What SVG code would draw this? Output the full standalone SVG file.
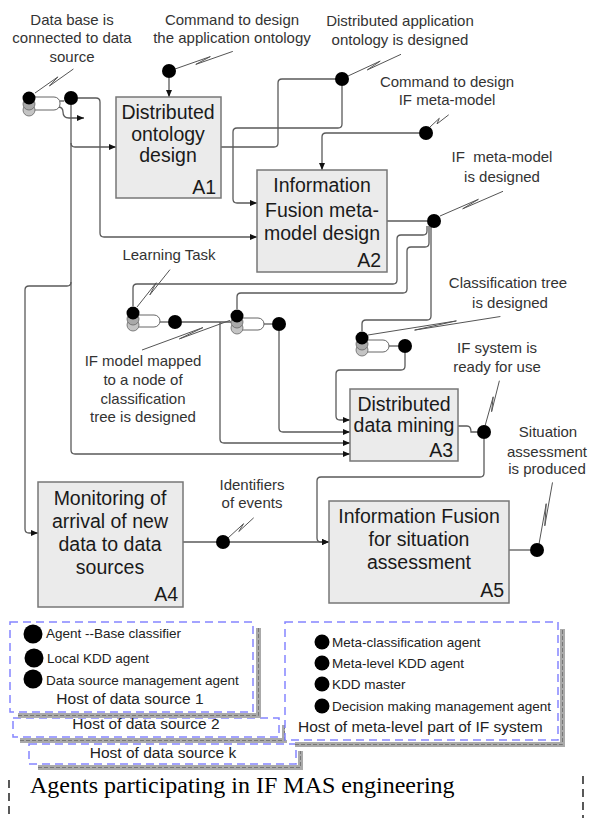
<svg xmlns="http://www.w3.org/2000/svg" width="591" height="818" viewBox="0 0 591 818">
<defs>
<style>
text{font-family:"Liberation Sans",Arial,sans-serif}
.lbl{font-size:15px;fill:#333;text-anchor:middle}
.bt{font-size:19.5px;fill:#1a1a1a;text-anchor:middle}
.bn{font-size:19.5px;fill:#1a1a1a;text-anchor:end}
.leg{font-size:13.5px;fill:#222}
.host{font-size:15.5px;fill:#222}
.box{fill:#ebebeb;stroke:#777;stroke-width:1.5}
.ln{fill:none;stroke:#5a5a5a;stroke-width:1.3}
.sq{fill:none;stroke:#555;stroke-width:1}
.dot{fill:#000}
.g1{fill:#a9a9a9;stroke:#666;stroke-width:0.8}
.g2{fill:#c4c4c4;stroke:#666;stroke-width:0.8}
.pill{fill:#fff;stroke:#666;stroke-width:1}
.dash{fill:#fff;stroke:#8585ff;stroke-width:1.5;stroke-dasharray:8,5}
.shd{fill:none;stroke:#aaa;stroke-width:5}
.shd2{fill:none;stroke:#777;stroke-width:1;stroke-dasharray:4,2}
</style>
<marker id="arr" markerWidth="8" markerHeight="7" refX="7" refY="3.5" orient="auto" markerUnits="userSpaceOnUse"><path d="M0,0.5 L7,3.5 L0,6.5 z" fill="#111"/></marker>
</defs>
<rect width="591" height="818" fill="#fff"/>

<g id="connectors">
<path class="ln" d="M221,147 H274 Q278,147 278,143 V83 Q278,79 282,79 H336"/>
<path class="ln" marker-end="url(#arr)" d="M342,86 V124 Q342,128 338,128 H237 Q233,128 233,132 V199 Q233,203 237,203 H257"/>
<path class="ln" marker-end="url(#arr)" d="M419,133 H326 Q322,133 322,137 V170"/>
<path class="ln" marker-end="url(#arr)" d="M169,78 V97"/>
<path class="ln" marker-end="url(#arr)" d="M78,98 H96 Q100,98 100,102 V233 Q100,237 104,237 H257"/>
<path class="ln" marker-end="url(#arr)" d="M71,105 V450 Q71,454 75,454 H350"/>
<path class="ln" marker-end="url(#arr)" d="M71,143 Q71,147 75,147 H116"/>
<path class="ln" marker-end="url(#arr)" d="M71,282 Q71,286 67,286 H29 Q25,286 25,290 V529 Q25,533 29,533 H38"/>
<path class="ln" marker-end="url(#arr)" d="M58,107 Q63,107 63,112 Q63,118 69,118 H84"/>
<path class="ln" d="M387,221 H427"/>
<path class="ln" d="M427,226 V231 Q427,235 423,235 H401 Q397,235 397,239 V280 Q397,284 393,284 H137 Q133,284 133,288 V306"/>
<path class="ln" d="M429,226 V243 Q429,247 425,247 H411 Q407,247 407,251 V289 Q407,293 403,293 H241 Q237,293 237,297 V309"/>
<path class="ln" d="M431,227 V316 Q431,320 427,320 H366 Q362,320 362,324 V331"/>
<path class="ln" d="M182,322 H231"/>
<path class="ln" marker-end="url(#arr)" d="M220,322 V439 Q220,443 224,443 H350"/>
<path class="ln" marker-end="url(#arr)" d="M279,331 V428 Q279,432 283,432 H350"/>
<path class="ln" marker-end="url(#arr)" d="M405,353 V366 Q405,370 401,370 H340 Q336,370 336,374 V416 Q336,420 340,420 H350"/>
<path class="ln" d="M458,426 H467 Q471,426 471,432 H477"/>
<path class="ln" marker-end="url(#arr)" d="M484,439 V473 Q484,477 480,477 H321 Q317,477 317,481 V538 Q317,542 321,542 H329"/>
<path class="ln" marker-end="url(#arr)" d="M183,542 H329"/>
<path class="ln" d="M509,550 H530"/>
<!-- squiggle label leaders -->
<path class="sq" d="M35,93 L57.9,76.9 L49.4,86 L73.4,69"/>
<path class="sq" d="M175,69 L210.3,56.6 L195.8,64.4 L232.8,51.4"/>
<path class="sq" d="M348,76 L380.2,61.1 L367.3,69.9 L401,54.3"/>
<path class="sq" d="M430,127 L439.3,118.3 L437,123.9 L448.7,114.8"/>
<path class="sq" d="M440,216 L478.4,199.3 L462.7,208.8 L503,191.3"/>
<path class="sq" d="M137,307 L156.2,282.8 L149.8,294.9 L170,269.6"/>
<path class="sq" d="M142,350 L202.9,327.6 L179.4,338.9 L229.9,320.4"/>
<path class="sq" d="M368,335 L456.4,320.9 L414.6,330.1 L500.4,316.5"/>
<path class="sq" d="M485,426 L493.2,396.8 L491.6,411.7 L499.4,380.7"/>
<path class="sq" d="M228,538 L243.6,523.7 L238.8,531.5 L253.7,517.8"/>
<path class="sq" d="M539,544 L546.2,503.7 L544.8,525.8 L552.5,482.4"/>
</g>

<g id="dots">
<circle class="dot" cx="169" cy="71" r="7"/>
<circle class="dot" cx="342" cy="79" r="7"/>
<circle class="dot" cx="426" cy="133" r="7"/>
<circle class="dot" cx="434" cy="221" r="7"/>
<circle class="dot" cx="484" cy="432" r="7"/>
<circle class="dot" cx="223" cy="542" r="7"/>
<circle class="dot" cx="537" cy="550" r="7"/>
</g>

<g id="node-db">
<rect class="pill" x="26" y="97" width="34" height="13" rx="6"/>
<circle class="g2" cx="29" cy="110" r="6"/>
<circle class="g1" cx="29" cy="104" r="6"/>
<circle class="dot" cx="29" cy="98" r="6.5"/>
<path class="ln" d="M60,101 H64"/>
<circle class="dot" cx="71" cy="98" r="7"/>
</g>
<g id="node-learning">
<rect class="pill" x="130" y="315" width="30" height="12" rx="6"/>
<circle class="g2" cx="133" cy="325" r="6"/>
<circle class="g1" cx="133" cy="319" r="6"/>
<circle class="dot" cx="133" cy="313" r="6.5"/>
<path class="ln" d="M160,322 H168"/>
<circle class="dot" cx="175" cy="322" r="7"/>
</g>
<g id="node-mapped">
<rect class="pill" x="234" y="318" width="30" height="12" rx="6"/>
<circle class="g2" cx="237" cy="328" r="6"/>
<circle class="g1" cx="237" cy="322" r="6"/>
<circle class="dot" cx="237" cy="316" r="6.5"/>
<path class="ln" d="M264,324 H272"/>
<circle class="dot" cx="279" cy="324" r="7"/>
</g>
<g id="node-tree">
<rect class="pill" x="359" y="340" width="30" height="12" rx="6"/>
<circle class="g2" cx="362" cy="350" r="6"/>
<circle class="g1" cx="362" cy="344" r="6"/>
<circle class="dot" cx="362" cy="338" r="6.5"/>
<path class="ln" d="M389,346 H398"/>
<circle class="dot" cx="405" cy="346" r="7"/>
</g>

<g id="A1">
<rect class="box" x="116" y="97" width="105" height="101"/>
<text class="bt" x="168" y="119">Distributed</text>
<text class="bt" x="168" y="141">ontology</text>
<text class="bt" x="168" y="162">design</text>
<text class="bn" x="216" y="194">A1</text>
</g>
<g id="A2">
<rect class="box" x="257" y="170" width="130" height="102"/>
<text class="bt" x="322" y="192">Information</text>
<text class="bt" x="322" y="217">Fusion meta-</text>
<text class="bt" x="322" y="240">model design</text>
<text class="bn" x="381" y="267">A2</text>
</g>
<g id="A3">
<rect class="box" x="350" y="389" width="108" height="72"/>
<text class="bt" x="404" y="411">Distributed</text>
<text class="bt" x="404" y="432">data mining</text>
<text class="bn" x="453" y="457">A3</text>
</g>
<g id="A4">
<rect class="box" x="38" y="482" width="145" height="125"/>
<text class="bt" x="110" y="505">Monitoring of</text>
<text class="bt" x="110" y="528">arrival of new</text>
<text class="bt" x="110" y="551">data to data</text>
<text class="bt" x="110" y="574">sources</text>
<text class="bn" x="178" y="601">A4</text>
</g>
<g id="A5">
<rect class="box" x="329" y="501" width="180" height="102"/>
<text class="bt" x="419" y="523">Information Fusion</text>
<text class="bt" x="419" y="546">for situation</text>
<text class="bt" x="419" y="569">assessment</text>
<text class="bn" x="504" y="597">A5</text>
</g>

<g id="labels">
<text class="lbl" x="72" y="25">Data base is</text>
<text class="lbl" x="72" y="43">connected to data</text>
<text class="lbl" x="72" y="62">source</text>
<text class="lbl" x="232" y="25">Command to design</text>
<text class="lbl" x="232" y="43">the application ontology</text>
<text class="lbl" x="400" y="26">Distributed application</text>
<text class="lbl" x="400" y="45">ontology is designed</text>
<text class="lbl" x="447" y="87">Command to design</text>
<text class="lbl" x="447" y="105">IF meta-model</text>
<text class="lbl" x="502" y="162" style="white-space:pre">IF  meta-model</text>
<text class="lbl" x="502" y="182">is designed</text>
<text class="lbl" x="169" y="260">Learning Task</text>
<text class="lbl" x="508" y="288">Classification tree</text>
<text class="lbl" x="510" y="308">is designed</text>
<text class="lbl" x="143" y="366">IF model mapped</text>
<text class="lbl" x="143" y="385">to a node of</text>
<text class="lbl" x="143" y="404">classification</text>
<text class="lbl" x="143" y="422">tree is designed</text>
<text class="lbl" x="497" y="353">IF system is</text>
<text class="lbl" x="497" y="372">ready for use</text>
<text class="lbl" x="548" y="437">Situation</text>
<text class="lbl" x="547" y="457">assessment</text>
<text class="lbl" x="547" y="474">is produced</text>
<text class="lbl" x="252" y="490">Identifiers</text>
<text class="lbl" x="252" y="508">of events</text>
</g>

<g id="host-k">
<path class="shd" d="M38,767.5 H300.5 V751"/>
<path class="shd2" d="M38,767.5 H300.5 V751"/>
<rect class="dash" x="29" y="744" width="267" height="20"/>
<text class="host" x="163" y="758" text-anchor="middle">Host of data source k</text>
</g>
<g id="host-2">
<path class="shd" d="M20,740.5 H284.5 V725"/>
<path class="shd2" d="M20,740.5 H284.5 V725"/>
<rect class="dash" x="13" y="718" width="266" height="19"/>
<text class="host" x="146" y="729" text-anchor="middle">Host of data source 2</text>
</g>
<g id="host-1">
<path class="shd" d="M18,715.5 H258.5 V628"/>
<path class="shd2" d="M18,715.5 H258.5 V628"/>
<rect class="dash" x="10" y="622" width="243" height="90"/>
<circle class="dot" cx="33" cy="634" r="9.5"/>
<circle class="dot" cx="34" cy="658" r="9.5"/>
<circle class="dot" cx="33" cy="679" r="9.5"/>
<text class="leg" x="46" y="638">Agent --Base classifier</text>
<text class="leg" x="47" y="663">Local KDD agent</text>
<text class="leg" x="46" y="685">Data source management agent</text>
<text class="host" x="130" y="704" text-anchor="middle">Host of data source 1</text>
</g>
<g id="host-meta">
<path class="shd" d="M295,744.5 H562.5 V629"/>
<path class="shd2" d="M295,744.5 H562.5 V629"/>
<rect class="dash" x="285" y="622" width="273" height="118"/>
<circle class="dot" cx="322" cy="642" r="7.5"/>
<circle class="dot" cx="322" cy="663" r="7.5"/>
<circle class="dot" cx="322" cy="684" r="7.5"/>
<circle class="dot" cx="322" cy="706" r="7.5"/>
<text class="leg" x="332" y="647">Meta-classification agent</text>
<text class="leg" x="332" y="668">Meta-level KDD agent</text>
<text class="leg" x="332" y="689">KDD master</text>
<text class="leg" x="332" y="711">Decision making management agent</text>
<text class="host" x="298" y="732">Host of meta-level part of IF system</text>
</g>

<g id="caption">
<path d="M9,780 V818 M583,776 V818" fill="none" stroke="#000" stroke-width="1.3" stroke-dasharray="8,5"/>
<text x="30" y="793" style="font-family:'Liberation Serif','Times New Roman',serif;font-size:24px;fill:#000">Agents participating in IF MAS engineering</text>
</g>
</svg>
